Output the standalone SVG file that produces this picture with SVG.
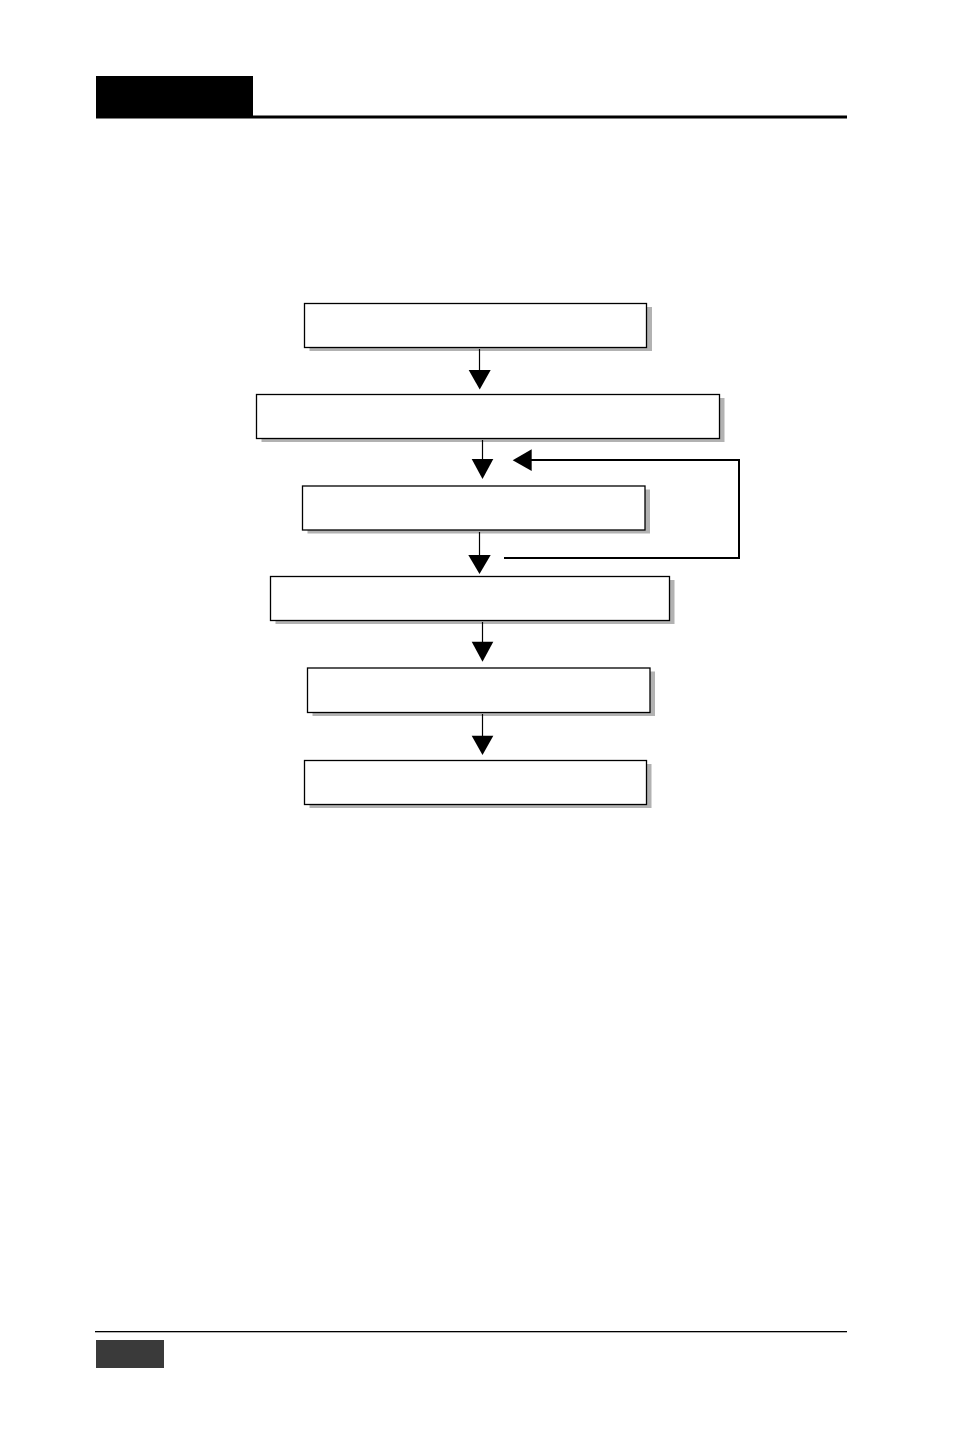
<svg xmlns="http://www.w3.org/2000/svg" width="954" height="1434" viewBox="0 0 954 1434">
<style>
.shadow{fill:#b2b2b2;stroke:none}
.box{fill:#fff;stroke:#000;stroke-width:1.3}
.ln{stroke:#000;stroke-width:1.2;fill:none}
.fb{stroke:#000;stroke-width:2;fill:none}
.head{fill:#000;stroke:none}
</style>
<rect width="954" height="1434" fill="#fff"/>
<g id="header">
<rect x="96" y="76" width="157" height="42" fill="#000"/>
<rect x="96" y="115.5" width="751" height="3" fill="#000"/>
</g>
<g id="footer">
<rect x="95" y="1331" width="752" height="1.3" fill="#000"/>
<rect x="96" y="1340" width="68" height="28" fill="#3a3a3a"/>
</g>
<g id="node1">
<rect class="shadow" x="309.5" y="307" width="342.5" height="44"/>
<rect class="box" x="304.5" y="303.5" width="342" height="44"/>
</g>
<g id="node2">
<rect class="shadow" x="261.5" y="398" width="463" height="44"/>
<rect class="box" x="256.5" y="394.5" width="463" height="44"/>
</g>
<g id="node3">
<rect class="shadow" x="307.5" y="489.5" width="342.5" height="44"/>
<rect class="box" x="302.5" y="486" width="342.5" height="44"/>
</g>
<g id="node4">
<rect class="shadow" x="275.5" y="580" width="399" height="44"/>
<rect class="box" x="270.5" y="576.5" width="399" height="44"/>
</g>
<g id="node5">
<rect class="shadow" x="312.5" y="671.5" width="342.5" height="44.5"/>
<rect class="box" x="307.5" y="668" width="342.5" height="44.5"/>
</g>
<g id="node6">
<rect class="shadow" x="309.5" y="764" width="342" height="44"/>
<rect class="box" x="304.5" y="760.5" width="342" height="44"/>
</g>
<g id="connectors">
<line class="ln" x1="479.5" y1="349" x2="479.5" y2="371"/>
<polygon class="head" points="468.7,370 490.7,370 479.7,389.5"/>
<line class="ln" x1="482.5" y1="440" x2="482.5" y2="460"/>
<polygon class="head" points="471.7,459 493.3,459 482.5,479"/>
<line class="ln" x1="479.5" y1="532" x2="479.5" y2="556"/>
<polygon class="head" points="468.3,555 490.7,555 479.5,574"/>
<line class="ln" x1="482.5" y1="622" x2="482.5" y2="642"/>
<polygon class="head" points="471.7,641.7 493.3,641.7 482.5,661.7"/>
<line class="ln" x1="482.5" y1="714" x2="482.5" y2="736"/>
<polygon class="head" points="471.7,735.7 493.3,735.7 482.5,755"/>
<polyline class="fb" points="504,558 739,558 739,460 531,460"/>
<polygon class="head" points="531.7,449.3 531.7,471 512.7,460.2"/>
</g>
</svg>
